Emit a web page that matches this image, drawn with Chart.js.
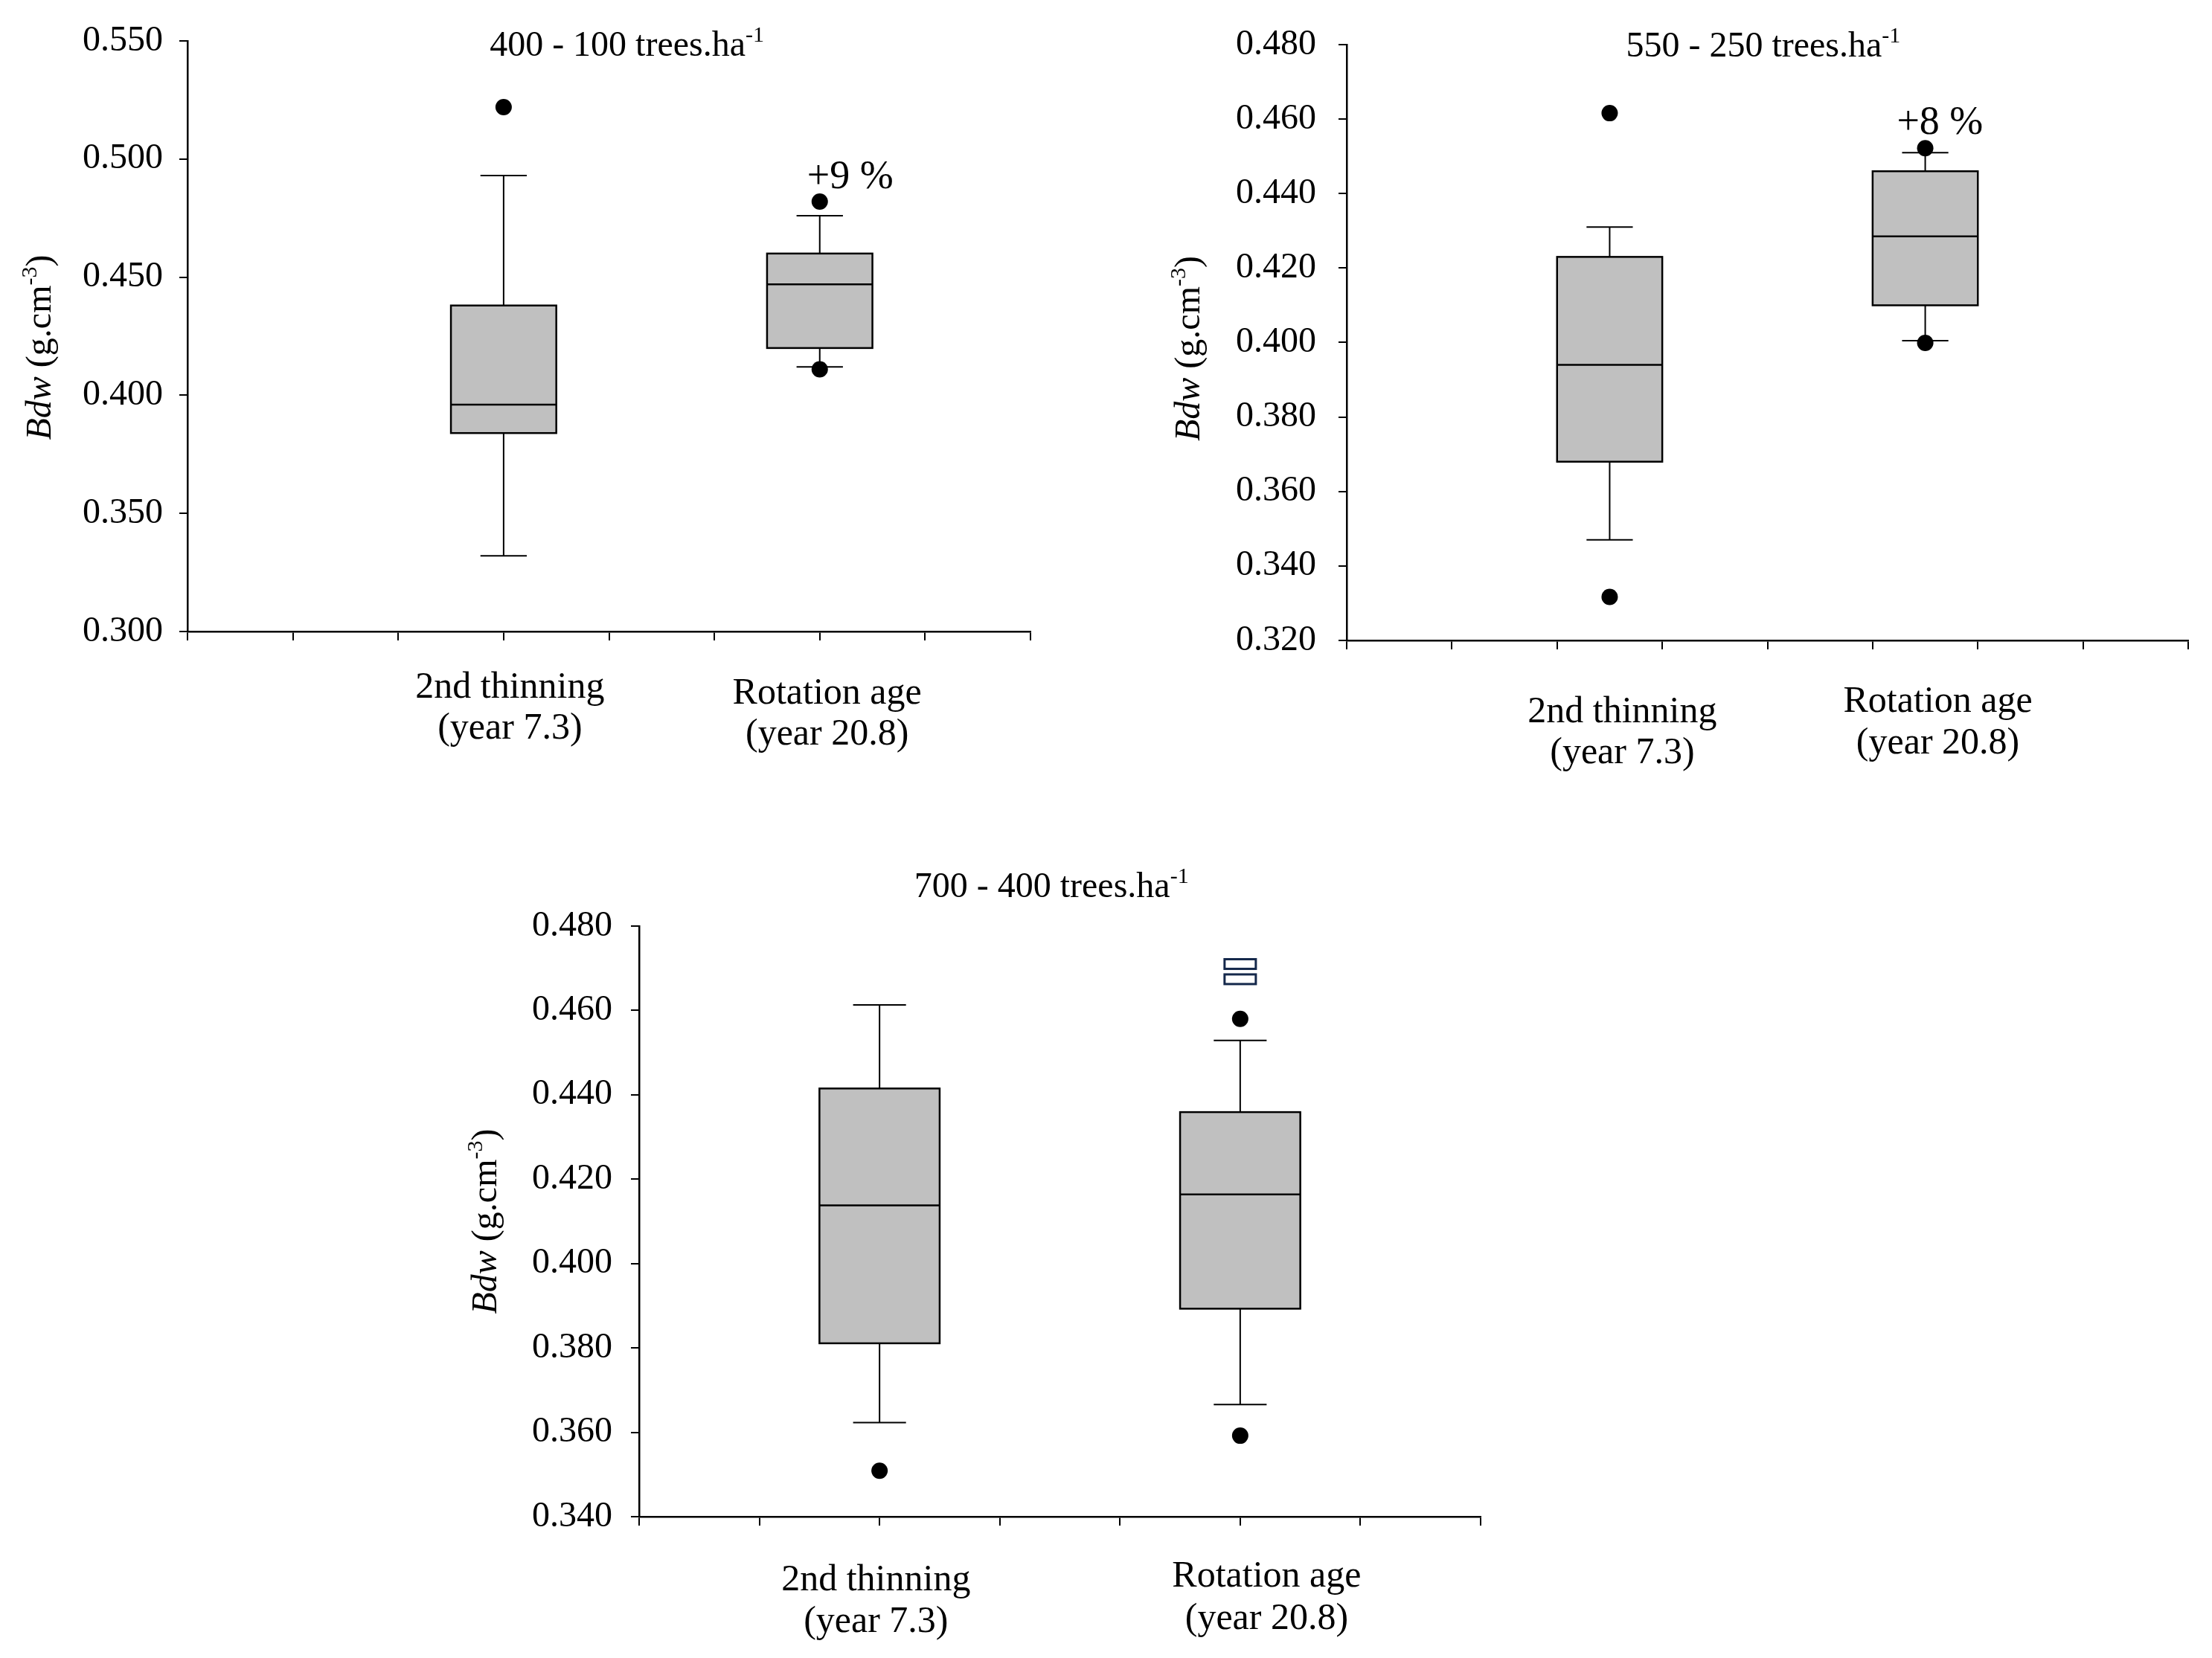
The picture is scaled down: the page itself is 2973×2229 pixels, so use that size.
<!DOCTYPE html>
<html>
<head>
<meta charset="utf-8">
<title>Bdw box plots</title>
<script src="https://cdn.jsdelivr.net/npm/chart.js@4.4.1/dist/chart.umd.min.js"></script>
<style>
  html, body { margin: 0; padding: 0; background: #fff; }
  body { width: 2973px; height: 2229px; position: relative; overflow: hidden; }
  canvas { position: absolute; }
</style>
</head>
<body>
<canvas id="chart1"></canvas>
<canvas id="chart2"></canvas>
<canvas id="chart3"></canvas>
<script>
// ============================================
// Data
// ============================================
const groups = ['2nd thinning', 'Rotation age'];
const groupYears = ['(year 7.3)', '(year 20.8)'];

// each box: [lower whisker, Q1, median, Q3, upper whisker]
const stats400 = [[0.332, 0.384, 0.396, 0.438, 0.493], [0.412, 0.420, 0.447, 0.460, 0.476]];
const outliers400 = [[0.522], [0.482, 0.411]];
const ticks400 = [0.300, 0.350, 0.400, 0.450, 0.500, 0.550];

const stats550 = [[0.347, 0.368, 0.394, 0.423, 0.431], [0.4005, 0.410, 0.4285, 0.446, 0.451]];
const outliers550 = [[0.4616, 0.3317], [0.4522, 0.3999]];
const ticks550 = [0.320, 0.340, 0.360, 0.380, 0.400, 0.420, 0.440, 0.460, 0.480];

const stats700 = [[0.3623, 0.3811, 0.4138, 0.4415, 0.4613], [0.3666, 0.3893, 0.4164, 0.4359, 0.4529]];
const outliers700 = [[0.3509], [0.458, 0.3592]];
const ticks700 = [0.340, 0.360, 0.380, 0.400, 0.420, 0.440, 0.460, 0.480];

const FONT = '"Liberation Serif", "Times New Roman", serif';

// ============================================
// Panel layout (page pixels for the plot area)
// ============================================
const panels = [
  {
    id: 'chart1', area: { L: 252, T: 55, R: 1385, B: 849 },
    xMax: 8, positions: [3, 6], stats: stats400, outliers: outliers400,
    yMin: 0.300, yMax: 0.550, yTicks: ticks400, tickPad: 22,
    title: '400 - 100 trees.ha', titleX: 4.17, titleDy: 4,
    note: '+9 %', noteAt: [6.29, 0.492],
    labelX: [3.06, 6.07], labelDy: [[76, 131], [84, 139]],
    yLabelDx: 200, yLabelDy: 15
  },
  {
    id: 'chart2', area: { L: 1810, T: 60, R: 2941, B: 861 },
    xMax: 8, positions: [2.5, 5.5], stats: stats550, outliers: outliers550,
    yMin: 0.320, yMax: 0.480, yTicks: ticks550, tickPad: 30,
    title: '550 - 250 trees.ha', titleX: 3.96, titleDy: 0,
    note: '+8 %', noteAt: [5.64, 0.4588],
    labelX: [2.62, 5.62], labelDy: [[97, 152], [83, 139]],
    yLabelDx: 214, yLabelDy: 8
  },
  {
    id: 'chart3', area: { L: 859, T: 1245, R: 1990, B: 2039 },
    xMax: 7, positions: [2, 5], stats: stats700, outliers: outliers700,
    yMin: 0.340, yMax: 0.480, yTicks: ticks700, tickPad: 25,
    title: '700 - 400 trees.ha', titleX: 3.43, titleDy: -55,
    glyphAt: [5, 0.4710, 0.4674],
    labelX: [1.97, 5.22], labelDy: [[86, 142], [81, 138]],
    yLabelDx: 208, yLabelDy: 0
  }
];

// draws a run of text pieces (normal / italic / superscript) on one baseline
function drawRich(ctx, parts, x, y, size) {
  const fontFor = p => `${p.it ? 'italic ' : ''}${p.sup ? Math.round(size * 0.62) : size}px ${FONT}`;
  let total = 0;
  parts.forEach(p => { ctx.font = fontFor(p); total += ctx.measureText(p.t).width; });
  let cx = x - total / 2;
  ctx.textAlign = 'left';
  ctx.textBaseline = 'alphabetic';
  parts.forEach(p => {
    ctx.font = fontFor(p);
    ctx.fillText(p.t, cx, p.sup ? y - size * 0.4 : y);
    cx += ctx.measureText(p.t).width;
  });
}

// box + whiskers, median line, and all the texts round the plot
function makeBoxPlugin(panel) {
  return {
    id: 'boxes',
    beforeDatasetsDraw(chart) {
      const { ctx, scales: { x, y } } = chart;
      panel.stats.forEach((s, i) => {
        const cx = panel.positions[i];
        const left = x.getPixelForValue(cx - 0.5);
        const right = x.getPixelForValue(cx + 0.5);
        const capL = x.getPixelForValue(cx - 0.22);
        const capR = x.getPixelForValue(cx + 0.22);
        const mid = x.getPixelForValue(cx);
        const [lo, q1, med, q3, hi] = s.map(v => y.getPixelForValue(v));
        ctx.save();
        ctx.strokeStyle = '#000';
        ctx.lineWidth = 2;
        ctx.beginPath();
        ctx.moveTo(mid, q3); ctx.lineTo(mid, hi);
        ctx.moveTo(capL, hi); ctx.lineTo(capR, hi);
        ctx.moveTo(mid, q1); ctx.lineTo(mid, lo);
        ctx.moveTo(capL, lo); ctx.lineTo(capR, lo);
        ctx.stroke();
        ctx.fillStyle = '#c0c0c0';
        ctx.fillRect(left, q3, right - left, q1 - q3);
        ctx.lineWidth = 2.5;
        ctx.strokeRect(left, q3, right - left, q1 - q3);
        ctx.beginPath();
        ctx.moveTo(left, med); ctx.lineTo(right, med);
        ctx.stroke();
        ctx.restore();
      });
    },
    afterDraw(chart) {
      const { ctx, chartArea, scales: { x, y } } = chart;
      ctx.save();
      ctx.fillStyle = '#000';

      // title with superscript
      drawRich(ctx, [{ t: panel.title }, { t: '-1', sup: true }],
        x.getPixelForValue(panel.titleX), chartArea.top + panel.titleDy + 16, 48);

      // percentage note
      if (panel.note) {
        ctx.font = `54px ${FONT}`;
        ctx.textAlign = 'center';
        ctx.textBaseline = 'middle';
        ctx.fillText(panel.note, x.getPixelForValue(panel.noteAt[0]), y.getPixelForValue(panel.noteAt[1]));
      }

      // stray symbol above the rotation-age box
      if (panel.glyphAt) {
        const gx = x.getPixelForValue(panel.glyphAt[0]);
        ctx.strokeStyle = '#14284b';
        ctx.lineWidth = 3;
        [panel.glyphAt[1], panel.glyphAt[2]].forEach(v => {
          const gy = y.getPixelForValue(v);
          ctx.strokeRect(gx - 21, gy - 6.5, 42, 13);
        });
      }

      // category labels (two lines)
      ctx.font = `50px ${FONT}`;
      ctx.textAlign = 'center';
      ctx.textBaseline = 'middle';
      groups.forEach((g, i) => {
        const lx = x.getPixelForValue(panel.labelX[i]);
        ctx.fillText(g, lx, chartArea.bottom + panel.labelDy[i][0]);
        ctx.fillText(groupYears[i], lx, chartArea.bottom + panel.labelDy[i][1]);
      });

      // rotated y axis title
      ctx.translate(chartArea.left - panel.yLabelDx, (chartArea.top + chartArea.bottom) / 2 + panel.yLabelDy);
      ctx.rotate(-Math.PI / 2);
      drawRich(ctx, [{ t: 'Bdw', it: true }, { t: ' (g.cm' }, { t: '-3', sup: true }, { t: ')' }], 0, 16, 48);
      ctx.restore();
    }
  };
}

const PAD_LEFT = 100, Y_AXIS_W = 160, PAD_TOP = 100, PAD_RIGHT = 30, X_AXIS_H = 190;

function createBoxChart(panel) {
  const el = document.getElementById(panel.id);
  const a = panel.area;
  const w = PAD_LEFT + Y_AXIS_W + (a.R - a.L) + PAD_RIGHT;
  const h = PAD_TOP + (a.B - a.T) + X_AXIS_H;
  el.width = w; el.height = h;
  el.style.width = w + 'px'; el.style.height = h + 'px';
  el.style.left = (a.L - PAD_LEFT - Y_AXIS_W) + 'px';
  el.style.top = (a.T - PAD_TOP) + 'px';

  const points = [];
  panel.outliers.forEach((vals, i) => vals.forEach(v => points.push({ x: panel.positions[i], y: v })));

  return new Chart(el, {
    type: 'scatter',
    data: {
      datasets: [{
        label: 'Outliers',
        data: points,
        pointRadius: 11,
        pointHoverRadius: 11,
        backgroundColor: '#000',
        borderWidth: 0
      }]
    },
    options: {
      responsive: false,
      animation: false,
      devicePixelRatio: 1,
      layout: { padding: { left: PAD_LEFT, top: PAD_TOP, right: PAD_RIGHT, bottom: 0 } },
      plugins: { legend: { display: false }, tooltip: { enabled: false }, title: { display: false } },
      scales: {
        x: {
          type: 'linear',
          min: 0,
          max: panel.xMax,
          afterBuildTicks: s => { s.ticks = Array.from({ length: panel.xMax + 1 }, (_, k) => ({ value: k })); },
          afterFit: s => { s.height = X_AXIS_H; },
          ticks: { display: false },
          grid: { drawOnChartArea: false, drawTicks: true, tickLength: 12, color: '#000', lineWidth: 2 },
          border: { display: true, color: '#000', width: 2.5 }
        },
        y: {
          type: 'linear',
          min: panel.yMin,
          max: panel.yMax,
          afterBuildTicks: s => { s.ticks = panel.yTicks.map(v => ({ value: v })); },
          afterFit: s => { s.width = Y_AXIS_W; },
          ticks: {
            color: '#000',
            padding: panel.tickPad,
            font: { family: FONT, size: 48 },
            callback: v => Number(v).toFixed(3)
          },
          grid: { drawOnChartArea: false, drawTicks: true, tickLength: 11, color: '#000', lineWidth: 2 },
          border: { display: true, color: '#000', width: 2.5 }
        }
      }
    },
    plugins: [makeBoxPlugin(panel)]
  });
}

panels.forEach(createBoxChart);
</script>
</body>
</html>
